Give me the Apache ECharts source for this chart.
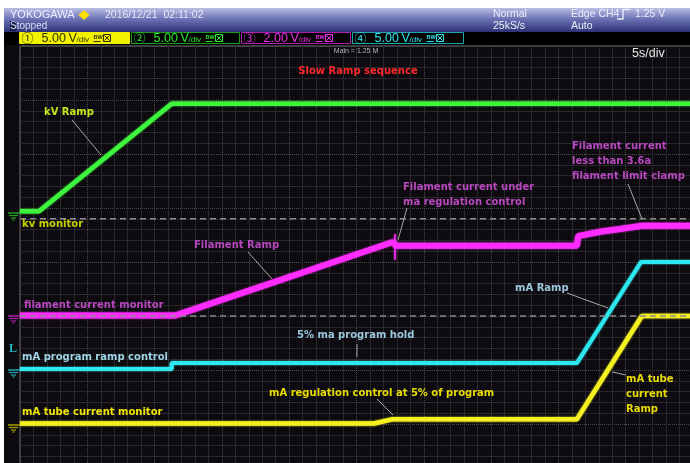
<!DOCTYPE html>
<html>
<head>
<meta charset="UTF-8">
<title>slow_ramp_sequence</title>
<script src="https://cdn.jsdelivr.net/npm/echarts@6/dist/echarts.min.js"></script>
<style>
  html, body { margin:0; padding:0; background:#fff; }
  #main { width:690px; height:463px; }
</style>
</head>
<body>
<div id="main"></div>
<script>
// scope capture: time in s (5 s/div, 10 div), level in divisions (-4..4)
var kvT  = [0, 1.41, 11.27, 50];
var kvV  = [0.94, 0.94, 2.93, 2.93];

var filT = [0, 11.57, 27.71, 27.94, 41.38, 41.46, 43.09, 44.58, 46.21, 50];
var filV = [-0.99, -0.99, 0.37, 0.30, 0.30, 0.48, 0.56, 0.61, 0.67, 0.67];
// glitch where regulation takes over
var spikeT = [27.86, 27.86];
var spikeV = [0.52, 0.04];

var progT = [0, 11.27, 11.27, 41.38, 46.14, 50];
var progV = [-1.98, -1.98, -1.87, -1.87, 0, 0];

var tubeT = [0, 26.3, 27.71, 41.38, 46.2, 50];
var tubeV = [-2.99, -2.99, -2.91, -2.91, -1.0, -1.0];

var refLevels = [0.8, -1.0];

function pairs(t, v) {
  var out = [];
  for (var i = 0; i < t.length; i++) out.push([t[i], v[i]]);
  return out;
}

var g = [];
function rect(x, y, w, h, fill, stroke) {
  g.push({type:'rect', z:100, shape:{x:x, y:y, width:w, height:h},
    style:{fill:fill, stroke:stroke || null, lineWidth:1}});
}
function txt(x, y, s, color, font, align) {
  g.push({type:'text', z:101, x:x, y:y,
    style:{text:s, fill:color, font:font, align:align || 'left', verticalAlign:'middle'}});
}
function seg(x1, y1, x2, y2, color, w) {
  g.push({type:'line', z:101, shape:{x1:x1, y1:y1, x2:x2, y2:y2},
    style:{stroke:color, lineWidth:w || 1}});
}
function gnd(y, color) {
  seg(8, y, 20, y, color, 1.5);
  seg(9, y + 2.5, 18, y + 2.5, color, 1.2);
  seg(11, y + 5, 16, y + 5, color, 1.2);
  seg(12.5, y + 7, 14.5, y + 7, color, 1.2);
}

// frame, header
rect(0, 0, 690, 8, '#ffffff');
rect(0, 0, 4, 463, '#ffffff');
g.push({type:'rect', z:100, shape:{x:4, y:8, width:686, height:24},
  style:{fill:new echarts.graphic.LinearGradient(0, 0, 0, 1, [
    {offset:0, color:'#b9bee4'}, {offset:0.45, color:'#6d74b6'}, {offset:1, color:'#2c3276'}])}});
rect(4, 32, 686, 13, '#000000');

txt(10, 15, 'YOKOGAWA', '#eef0ff', '11px "Liberation Sans"');
g.push({type:'polygon', z:101, shape:{points:[[84,10],[89.5,15],[84,20],[78.5,15]]}, style:{fill:'#ffe000'}});
txt(105, 15, '2016/12/21  02:11:02', '#e8eaf8', '10.5px "Liberation Sans"');
rect(10, 21, 6, 10, '#1c2050');
txt(10, 26, 'Stopped', '#d8dcf0', '10px "Liberation Sans"');
txt(493, 14, 'Normal', '#eceef8', '10.5px "Liberation Sans"');
txt(493, 26, '25kS/s', '#eceef8', '10.5px "Liberation Sans"');
txt(571, 14, 'Edge CH4', '#eceef8', '10.5px "Liberation Sans"');
g.push({type:'polyline', z:101, shape:{points:[[617,19],[623,19],[623,9.5],[630,9.5]]}, style:{stroke:'#eceef8', lineWidth:1.3, fill:null}});
txt(635, 14, '1.25 V', '#eceef8', '10.5px "Liberation Sans"');
txt(571, 26, 'Auto', '#eceef8', '10.5px "Liberation Sans"');

// channel boxes
var boxes = [
  {x:19.5, w:110, fill:'#f0f000', stroke:'#f0f000', col:'#303000', n:'\u2460', val:'5.00'},
  {x:131.5, w:108, fill:'#000000', stroke:'#1c9a1c', col:'#2ee82e', n:'\u2461', val:'5.00'},
  {x:241.5, w:109, fill:'#000000', stroke:'#b020b0', col:'#f030f0', n:'\u2462', val:'2.00'},
  {x:352.5, w:111, fill:'#000000', stroke:'#1ea6ae', col:'#30e8f0', n:'\u2463', val:'5.00'}
];
boxes.forEach(function (b) {
  rect(b.x, 32.5, b.w, 11, b.fill, b.stroke);
  txt(b.x + 2, 38.5, b.n, b.col, '12px "Noto Sans CJK JP"');
  txt(b.x + 22, 38.5, b.val, b.col, '12.5px "Liberation Sans"');
  txt(b.x + 49, 38.5, 'V', b.col, '12.5px "Liberation Sans"');
  txt(b.x + 57, 40, '/div', b.col, '8px "Liberation Sans"');
  txt(b.x + 74, 37, 'BW', b.col, 'bold 5.5px "Liberation Sans"');
  seg(b.x + 74, 41.5, b.x + 81, 41.5, b.col, 1);
  rect(b.x + 84, 34.5, 7, 7, 'rgba(0,0,0,0)', b.col);
  seg(b.x + 85, 35.5, b.x + 90, 40.5, b.col, 1);
  seg(b.x + 90, 35.5, b.x + 85, 40.5, b.col, 1);
});

txt(356, 51, 'Main = 1.25 M', '#b4b4b4', '7px "Liberation Sans"', 'center');
txt(632, 54, '5s/div', '#e8e8e8', '12.5px "Liberation Sans"');

// ground / trigger markers
gnd(213, '#22a022');
gnd(316, '#b020b0');
gnd(370, '#20a8b0');
gnd(425, '#a8a000');
txt(9, 349, 'L', '#20b8c0', 'bold 12px "Liberation Serif"');

// annotations
var AF = 'bold 10px "DejaVu Sans"';
txt(358, 71, 'Slow Ramp sequence', '#ff2828', AF, 'center');
txt(44, 112, 'kV Ramp', '#c8e61e', AF);
txt(22, 224, 'kv monitor', '#c8d200', AF);
txt(403, 187, 'Filament current under', '#b848c0', AF);
txt(403, 202, 'ma regulation control', '#b848c0', AF);
txt(572, 146, 'Filament current', '#b848c0', AF);
txt(572, 161, 'less than 3.6a', '#b848c0', AF);
txt(572, 176, 'filament limit clamp', '#b848c0', AF);
txt(194, 245, 'Filament Ramp', '#b848c0', AF);
txt(24, 305, 'filament current monitor', '#b848c0', AF);
txt(22, 357, 'mA program ramp control', '#9ed6e6', AF);
txt(297, 335, '5% ma program hold', '#9cc8de', AF);
txt(22, 412, 'mA tube current monitor', '#f0e600', AF);
txt(269, 393, 'mA regulation control at 5% of program', '#e8dc00', AF);
txt(515, 288, 'mA Ramp', '#9cc8de', AF);
txt(626, 379, 'mA tube', '#e8dc00', AF);
txt(626, 394, 'current', '#e8dc00', AF);
txt(626, 409, 'Ramp', '#e8dc00', AF);

var LC = '#a8a8a8';
seg(72, 120, 101, 155, LC);
seg(407, 208, 398, 240, LC);
seg(628, 184, 642, 219, LC);
seg(248, 252, 272, 279, LC);
seg(357, 344, 357, 357, LC);
seg(377, 399, 393, 415, LC);
seg(567, 293, 608, 308, LC);
seg(612, 372, 626, 375, LC);

function trace(name, data, color, width) {
  return {name:name, type:'line', data:data, showSymbol:false, silent:true,
    animation:false, z:3,
    lineStyle:{color:color, width:width, shadowBlur:2, shadowColor:color}};
}

var series = [
  trace('kv monitor', pairs(kvT, kvV), '#3cf53c', 4.5),
  trace('filament current monitor', pairs(filT, filV), '#ff2cff', 6),
  trace('filament glitch', pairs(spikeT, spikeV), '#ff2cff', 1.5),
  trace('mA program ramp control', pairs(progT, progV), '#2ee8f0', 4),
  trace('mA tube current monitor', pairs(tubeT, tubeV), '#f5f020', 4.5)
];
refLevels.forEach(function (lv) {
  series.push({type:'line', data:[[0, lv], [50, lv]], showSymbol:false, silent:true,
    animation:false, z:4, lineStyle:{color:'#8c8c8c', width:1.5, type:[6, 4]}});
});

var myChart = echarts.init(document.getElementById('main'));
var option = {
  backgroundColor: '#0d0b0f',
  animation: false,
  grid: {left:20, top:46, width:673, height:432, show:true,
    outerBoundsMode:'none', containLabel:false,
    borderColor:'#6a6a6a', borderWidth:1, backgroundColor:'transparent'},
  xAxis: {type:'value', min:0, max:50, interval:5,
    axisLine:{show:false}, axisTick:{show:false}, axisLabel:{show:false},
    splitLine:{show:true, lineStyle:{color:'#4c4c4c', type:'dotted'}},
    minorTick:{show:false, splitNumber:5},
    minorSplitLine:{show:true, lineStyle:{color:'#29272b'}}},
  yAxis: {type:'value', min:-4, max:4, interval:1,
    axisLine:{show:false}, axisTick:{show:false}, axisLabel:{show:false},
    splitLine:{show:true, lineStyle:{color:'#4c4c4c', type:'dotted'}},
    minorTick:{show:false, splitNumber:5},
    minorSplitLine:{show:true, lineStyle:{color:'#29272b'}}},
  graphic: g,
  series: series
};
myChart.setOption(option);
</script>
</body>
</html>
